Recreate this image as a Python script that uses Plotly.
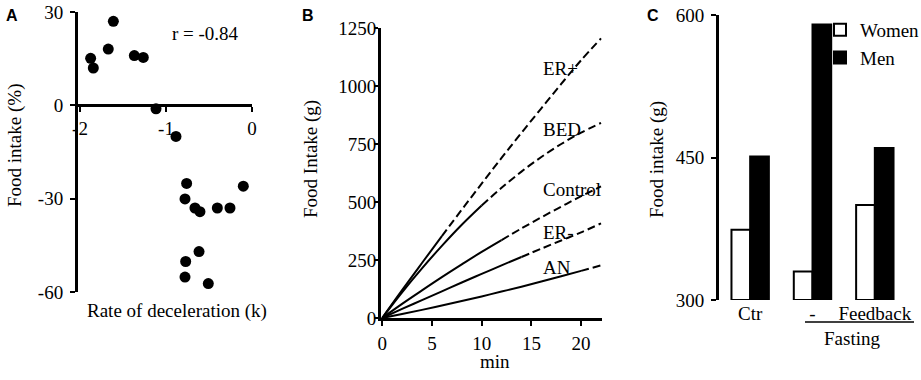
import plotly.graph_objects as go

W, H = 921, 380
FONT = "Liberation Serif"
FS = 19

# ---------------- Panel A data ----------------
rate_k = [-1.876, -1.845, -1.663, -1.612, -1.671, -1.368, -1.264, -1.116, -0.884,
          -0.760, -0.779, -0.663, -0.605, -0.403, -0.256, -0.101, -0.616, -0.771,
          -0.779, -0.508]
intake_pct = [15.1, 12.0, 30.1, 27.0, 18.1, 16.0, 15.4, -1.1, -10.0,
              -25.1, -30.1, -33.0, -34.2, -33.0, -33.0, -26.0, -47.0, -50.2,
              -55.2, -57.3]
a_xticks = [-2, -1, 0]
a_xticklabels = ["-2", "-1", "0"]
a_yticks = [30, 0, -30, -60]
a_yticklabels = ["30", "0", "-30", "-60"]

# ---------------- Panel B data ----------------
minutes = [0, 2, 4, 6, 8, 10, 12, 14, 16, 18, 20, 22]
er_plus = [0, 120, 237, 353, 467, 579, 690, 798, 904, 1009, 1111, 1205]
bed = [0, 111, 214, 311, 402, 485, 561, 631, 694, 750, 799, 841]
control = [0, 61, 119, 176, 231, 285, 336, 386, 434, 480, 525, 567]
er_minus = [0, 39, 77, 115, 153, 190, 227, 263, 299, 334, 369, 408]
an = [0, 17, 35, 54, 73, 93, 114, 135, 157, 180, 203, 227]
b_names = ["ER+", "BED", "Control", "ER-", "AN"]
b_series = [er_plus, bed, control, er_minus, an]
b_solid_until = [6, 10, 12, 14, 20]   # minute where the solid part ends
b_label_pos = [(541, 68), (541, 130), (541, 189), (541, 232), (541, 267)]

# ---------------- Panel C data ----------------
c_groups = ["Ctr", "-", "Feedback"]
women = [374, 330, 400]
men = [451, 590, 460]
c_base = 300


def fx(px):
    return px / W


def fy(py):
    return 1 - py / H


fig = go.Figure()

# Panel A
fig.add_trace(go.Scatter(x=rate_k, y=intake_pct, mode="markers",
                         marker=dict(color="black", size=11),
                         cliponaxis=False, showlegend=False,
                         xaxis="x", yaxis="y"))

# Panel B
for name, ys, cut in zip(b_names, b_series, b_solid_until):
    i = minutes.index(cut)
    fig.add_trace(go.Scatter(x=minutes[:i + 1], y=ys[:i + 1], mode="lines",
                             line=dict(color="black", width=2, shape="spline"),
                             showlegend=False, xaxis="x2", yaxis="y2", name=name))
    fig.add_trace(go.Scatter(x=minutes[i:], y=ys[i:], mode="lines",
                             line=dict(color="black", width=2, dash="8px,4px", shape="spline"),
                             showlegend=False, xaxis="x2", yaxis="y2", name=name))

# Panel C
fig.add_trace(go.Bar(x=c_groups, y=[v - c_base for v in women], base=c_base, name="Women",
                     marker=dict(color="white", line=dict(color="black", width=2)),
                     xaxis="x3", yaxis="y3", legendgroup="w"))
fig.add_trace(go.Bar(x=c_groups, y=[v - c_base for v in men], base=c_base, name="Men",
                     marker=dict(color="black", line=dict(color="black", width=2)),
                     xaxis="x3", yaxis="y3", legendgroup="m"))

axis_common = dict(showgrid=False, zeroline=False, showline=True, linecolor="black",
                   linewidth=3, ticks="outside", tickcolor="black", tickwidth=2,
                   tickfont=dict(family=FONT, size=FS, color="black"))

fig.update_layout(
    width=W, height=H,
    margin=dict(l=0, r=0, t=0, b=0, autoexpand=False),
    paper_bgcolor="white", plot_bgcolor="white",
    font=dict(family=FONT, size=FS, color="black"),
    barmode="group", bargap=0.4, bargroupgap=0,
    xaxis=dict(axis_common, domain=[fx(78), fx(252)], range=[-2.023, 0],
               anchor="free", position=fy(105), tickvals=a_xticks,
               ticktext=a_xticklabels, ticklen=5, ticklabelstandoff=0),
    yaxis=dict(axis_common, domain=[fy(292), fy(12)], range=[-60, 30],
               anchor="x", tickvals=a_yticks, ticktext=a_yticklabels,
               ticklen=5, ticklabelstandoff=3),
    xaxis2=dict(axis_common, domain=[fx(381), fx(602)], range=[-0.12, 22.1],
                anchor="y2", tickvals=[0, 5, 10, 15, 20], ticklen=5,
                ticklabelstandoff=1),
    yaxis2=dict(axis_common, domain=[fy(318), fy(28)], range=[0, 1250],
                anchor="x2", tickvals=[0, 250, 500, 750, 1000, 1250], ticklen=4,
                ticklabelstandoff=-6),
    xaxis3=dict(showgrid=False, zeroline=False, showline=False, type="category",
                domain=[fx(719), fx(906)], range=[-0.5, 2.5], anchor="y3",
                ticks="", tickfont=dict(family=FONT, size=FS, color="black")),
    yaxis3=dict(axis_common, domain=[fy(300), fy(15)], range=[300, 600],
                anchor="x3", tickvals=[300, 450, 600], ticklen=5,
                ticklabelstandoff=3),
    legend=dict(x=fx(820), y=fy(11), xanchor="left", yanchor="top",
                font=dict(family=FONT, size=FS, color="black"),
                tracegroupgap=5, bgcolor="rgba(0,0,0,0)", traceorder="normal"),
)

ann = []


def txt(text, px, py, size=FS, angle=0, xanchor="center", family=FONT, bold=False):
    ann.append(dict(text=("<b>%s</b>" % text) if bold else text, x=fx(px), y=fy(py),
                    xref="paper", yref="paper", showarrow=False, textangle=angle,
                    xanchor=xanchor, yanchor="middle",
                    font=dict(family=family, size=size, color="black")))


# panel letters
txt("A", 12, 15, size=16, family="Liberation Sans", bold=True)
txt("B", 308, 15, size=16, family="Liberation Sans", bold=True)
txt("C", 653, 15, size=16, family="Liberation Sans", bold=True)
# panel A texts
txt("r = -0.84", 205, 33)
txt("Food intake (%)", 15, 146, angle=-90)
txt("Rate of deceleration (k)", 177, 311)
# panel B texts
txt("Food Intake (g)", 311, 159, angle=-90)
txt("min", 495, 361)
for name, (px, py) in zip(b_names, b_label_pos):
    txt(name, px, py, xanchor="left")
# panel C texts
txt("Food intake (g)", 657, 160, angle=-90)
txt("Fasting", 852, 338)

fig.update_layout(annotations=ann,
                  shapes=[dict(type="line", xref="paper", yref="paper",
                               x0=fx(805), x1=fx(914), y0=fy(322), y1=fy(322),
                               line=dict(color="black", width=1.5))])

fig.write_html("out.html", config={"displayModeBar": False},
               post_script="document.body.style.margin='0';")
